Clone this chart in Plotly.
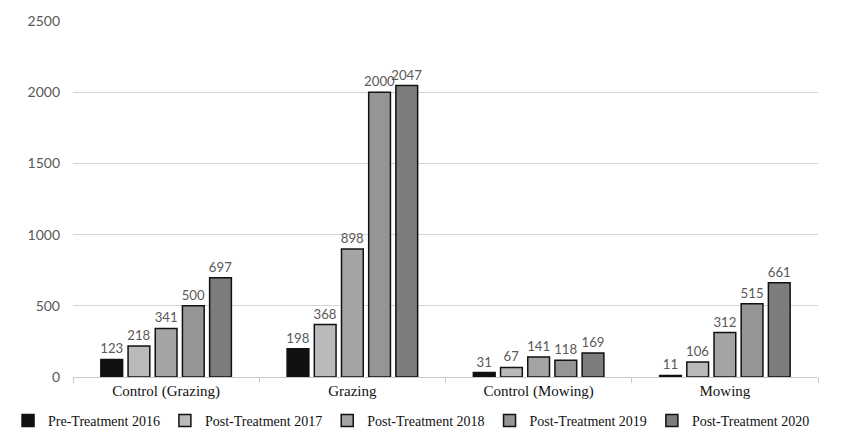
import plotly.graph_objects as go

categories = ["Control (Grazing)", "Grazing", "Control (Mowing)", "Mowing"]
series_names = ["Pre-Treatment 2016", "Post-Treatment 2017", "Post-Treatment 2018",
                "Post-Treatment 2019", "Post-Treatment 2020"]
pre_2016 = [123, 198, 31, 11]
post_2017 = [218, 368, 67, 106]
post_2018 = [341, 898, 141, 312]
post_2019 = [500, 2000, 118, 515]
post_2020 = [697, 2047, 169, 661]
y_ticks = [0, 500, 1000, 1500, 2000, 2500]

series_values = [pre_2016, post_2017, post_2018, post_2019, post_2020]
colors = ["#111111", "#bababa", "#a4a4a4", "#959595", "#7d7d7d"]

fig = go.Figure()
for name, vals, col in zip(series_names, series_values, colors):
    fig.add_trace(go.Bar(
        x=categories, y=vals, name=name,
        marker=dict(color=col, line=dict(color="#111111", width=1.5)),
        text=[str(v) for v in vals], textposition="outside",
        textfont=dict(family="Lato, Open Sans, sans-serif", size=13.2, color="#595959"),
        constraintext="none",
        cliponaxis=False,
    ))

# the page body adds an 8px margin, so the figure is 8px smaller than the window
fig.update_layout(
    width=849, height=423,
    margin=dict(l=65, r=39, t=13, b=54, autoexpand=False),
    paper_bgcolor="white", plot_bgcolor="white",
    barmode="group", bargap=0.27, bargroupgap=0.2,
    showlegend=True,
    legend=dict(orientation="h", x=-0.0872, xanchor="left", y=-0.1236, yanchor="middle",
                font=dict(family="Liberation Serif, serif", size=14, color="#111111"),
                itemwidth=30, tracegroupgap=0),
    xaxis=dict(showline=True, linecolor="#c8c8c8", linewidth=1,
               ticks="outside", tickson="boundaries", ticklen=5, tickcolor="#c8c8c8",
               tickfont=dict(family="Liberation Serif, serif", size=15, color="#111111"),
               showgrid=False),
    yaxis=dict(range=[0, 2500], tickvals=y_ticks, showgrid=True, gridcolor="#d4d4d4",
               gridwidth=1, zeroline=False, showline=False,
               tickfont=dict(family="Lato, Open Sans, sans-serif", size=14, color="#595959"),
               ticks="", ticklabelstandoff=12),
)

fig.write_html("out.html")
